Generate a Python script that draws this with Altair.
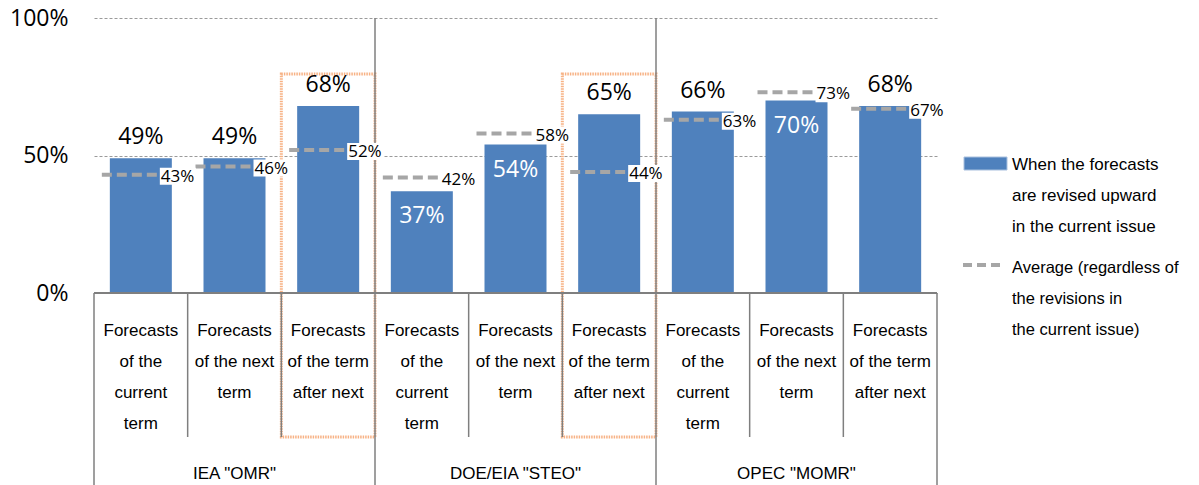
import altair as alt
import pandas as pd

# ---- data ----
groups = ['IEA "OMR"', 'DOE/EIA "STEO"', 'OPEC "MOMR"']
terms = ["Forecasts\nof the\ncurrent\nterm",
         "Forecasts\nof the next\nterm",
         "Forecasts\nof the term\nafter next"]
upward = [49, 49, 68, 37, 54, 65, 66, 70, 68]      # % when revised upward
average = [43, 46, 52, 42, 58, 44, 63, 73, 67]     # % average
highlight = [False, False, True, False, False, True, False, False, False]
legend_labels = ["When the forecasts\nare revised upward\nin the current issue",
                 "Average (regardless of\nthe revisions in\nthe current issue)"]
y_ticks = [0, 50, 100]

# ---- tables built from the lists ----
n = len(upward)
df = pd.DataFrame({
    "pos": [i + 0.5 for i in range(n)],
    "left": list(range(n)),
    "right": [i + 1 for i in range(n)],
    "group": [groups[i // 3] for i in range(n)],
    "term": [terms[i % 3] for i in range(n)],
    "up": upward,
    "avg": average,
    "hl": highlight,
})
gdf = pd.DataFrame({"group": groups, "center": [3 * g + 1.5 for g in range(len(groups))]})
cat_bounds = pd.DataFrame({"b": [i for i in range(1, n) if i % 3 != 0], "z": 0})
grp_bounds = pd.DataFrame({"b": [3 * g for g in range(len(groups) + 1)],
                           "top": [0] + [100] * (len(groups) - 1) + [0]})
zero_df = pd.DataFrame({"a": [0], "b": [n], "z": [0]})
one = pd.DataFrame({"k": [0]})

NARROW = "Liberation Sans, Arial, sans-serif"
SANS = "Open Sans, Noto Sans, sans-serif"
BLUE = "#4F81BD"
GRAY = "#A6A6A6"
LINE = "#7F7F7F"

xs = alt.Scale(domain=[0, n], nice=False, zero=False)
ys = alt.Scale(domain=[-69.8, 100], nice=False, zero=False)
YAX = alt.Axis(values=y_ticks, labelExpr="datum.value + '%'", title=None,
               domain=False, ticks=False, grid=True, gridDash=[3, 2],
               gridColor="#9A9A9A", gridWidth=1, labelFont=SANS,
               labelFontSize=23, labelColor="#000", labelPadding=26)


def X(f):
    return alt.X(f, scale=xs, axis=None)


def Y(f):
    return alt.Y(f, scale=ys, axis=YAX)


base = alt.Chart(df)

bars = base.mark_bar(color=BLUE, xOffset=-31, x2Offset=31).encode(
    x=X("pos:Q"), x2="pos:Q", y=Y("up:Q"), y2=alt.datum(0))

boxes = base.transform_filter("datum.hl").mark_rect(
    fillOpacity=0, stroke="#F7B285", strokeWidth=3, strokeDash=[1.5, 1]).encode(
    x=X("left:Q"), x2="right:Q", y=alt.value(56), y2=alt.value(419))

cat_lines = alt.Chart(cat_bounds).mark_rule(color=LINE, strokeWidth=1.5).encode(
    x=X("b:Q"), y=Y("z:Q"), y2=alt.value(419))

grp_lines = alt.Chart(grp_bounds).mark_rule(color=LINE, strokeWidth=1.5).encode(
    x=X("b:Q"), y=Y("top:Q"), y2=alt.value(467))

zero_line = alt.Chart(zero_df).mark_rule(color=LINE, strokeWidth=2).encode(
    x=X("a:Q"), x2="b:Q", y=Y("z:Q"))

avg_dash = base.mark_rule(color=GRAY, strokeWidth=4, strokeDash=[10, 5],
                          xOffset=-39, x2Offset=16).encode(
    x=X("pos:Q"), x2="pos:Q", y=Y("avg:Q"))

avg_bg = base.mark_rect(color="white", xOffset=19, x2Offset=55,
                        yOffset=-7, y2Offset=10).encode(
    x=X("pos:Q"), x2="pos:Q", y=Y("avg:Q"), y2="avg:Q")

avg_txt = base.transform_calculate(lab="datum.avg + '%'").mark_text(
    align="left", baseline="middle", dx=20, dy=2, fontSize=17, font=SANS,
    color="#000").encode(x=X("pos:Q"), y=Y("avg:Q"), text="lab:N")

lab_above = base.transform_filter("datum.avg <= datum.up").transform_calculate(
    lab="datum.up + '%'").mark_text(
    align="center", baseline="alphabetic", dy=-14, fontSize=23, font=SANS,
    color="#000").encode(x=X("pos:Q"), y=Y("up:Q"), text="lab:N")

lab_inside = base.transform_filter("datum.avg > datum.up").transform_calculate(
    lab="datum.up + '%'").mark_text(
    align="center", baseline="alphabetic", dy=32, fontSize=23, font=SANS,
    color="white").encode(x=X("pos:Q"), y=Y("up:Q"), text="lab:N")

cat_txt = base.mark_text(align="center", baseline="alphabetic", fontSize=17,
                         font=NARROW, lineBreak="\n", lineHeight=31,
                         color="#000").encode(
    x=X("pos:Q"), y=alt.value(318), text="term:N")

grp_txt = alt.Chart(gdf).mark_text(align="center", baseline="alphabetic",
                                   fontSize=17, font=NARROW, color="#000").encode(
    x=X("center:Q"), y=alt.value(461), text="group:N")

leg_box = alt.Chart(one).mark_rect(color=BLUE, stroke="#A9C0DE", strokeWidth=1).encode(
    x=alt.value(870), x2=alt.value(913), y=alt.value(139), y2=alt.value(152))
leg_dash = alt.Chart(one).mark_rule(color=GRAY, strokeWidth=4, strokeDash=[9, 5]).encode(
    x=alt.value(869), x2=alt.value(908), y=alt.value(247))
leg_t1 = alt.Chart(one).mark_text(align="left", baseline="alphabetic", fontSize=17,
                                  font=NARROW, lineBreak="\n", lineHeight=31,
                                  color="#000").encode(
    x=alt.value(918), y=alt.value(152), text=alt.value(legend_labels[0]))
leg_t2 = alt.Chart(one).mark_text(align="left", baseline="alphabetic", fontSize=16.5,
                                  font=NARROW, lineBreak="\n", lineHeight=31,
                                  color="#000").encode(
    x=alt.value(918), y=alt.value(255), text=alt.value(legend_labels[1]))

chart = alt.layer(
    bars, boxes, cat_lines, grp_lines, zero_line, avg_dash, avg_bg, avg_txt,
    lab_above, lab_inside, cat_txt, grp_txt, leg_box, leg_dash, leg_t1, leg_t2,
).properties(
    width=843, height=467,
    background="white",
    autosize=alt.AutoSizeParams(type="none"),
    padding={"left": 94, "top": 18, "right": 262, "bottom": 0},
).configure_view(strokeWidth=0, stroke="transparent")

chart.save("out.html", embed_options={"renderer": "svg", "actions": False})
